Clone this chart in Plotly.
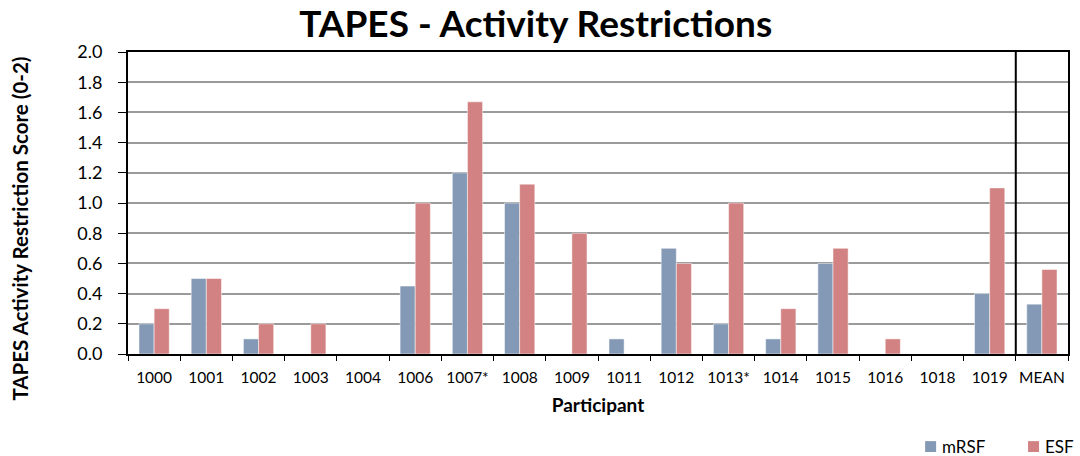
import plotly.graph_objects as go

participants = ["1000", "1001", "1002", "1003", "1004", "1006", "1007*", "1008", "1009",
                "1011", "1012", "1013*", "1014", "1015", "1016", "1018", "1019", "MEAN"]
mrsf = [0.2, 0.5, 0.1, 0.0, 0.0, 0.45, 1.2, 1.0, 0.0,
        0.1, 0.7, 0.2, 0.1, 0.6, 0.0, 0.0, 0.4, 0.33]
esf = [0.3, 0.5, 0.2, 0.2, 0.0, 1.0, 1.67, 1.125, 0.8,
       0.0, 0.6, 1.0, 0.3, 0.7, 0.1, 0.0, 1.1, 0.56]
y_ticks = [0.0, 0.2, 0.4, 0.6, 0.8, 1.0, 1.2, 1.4, 1.6, 1.8, 2.0]

FONT = "Lato"
BLUE = "#8499B5"
RED = "#D28282"

fig = go.Figure()
fig.add_trace(go.Bar(name="mRSF", x=participants, y=mrsf, marker_color=BLUE,
                     marker_line=dict(color="rgba(255,255,255,0.5)", width=1)))
fig.add_trace(go.Bar(name="ESF", x=participants, y=esf, marker_color=RED,
                     marker_line=dict(color="rgba(255,255,255,0.5)", width=1)))

fig.update_layout(
    width=1080, height=456,
    margin=dict(l=128, r=12, t=52, b=102, autoexpand=False),
    paper_bgcolor="white", plot_bgcolor="white",
    barmode="group", bargap=0.42, bargroupgap=0.0,
    font=dict(family=FONT, color="black"),
    title=dict(text="<b>TAPES - Activity Restrictions</b>", x=0.496, xanchor="center",
               y=0.947, yanchor="middle", font=dict(size=37, family=FONT)),
    showlegend=False,
)

fig.update_xaxes(
    type="category", showline=True, linecolor="black", linewidth=2, mirror=True,
    ticks="outside", tickson="boundaries", ticklen=5, tickcolor="black",
    tickangle=0, ticklabelstandoff=8, automargin=False,
    tickfont=dict(size=15.5, family=FONT),
    title=dict(text="<b>Participant</b>", font=dict(size=19, family=FONT), standoff=14),
    showgrid=False,
)
fig.update_yaxes(
    range=[0, 2.0], tickvals=y_ticks, ticktext=[f"{v:.1f}" for v in y_ticks],
    showline=True, linecolor="black", linewidth=2, mirror=True,
    ticks="outside", ticklen=8, tickcolor="black", automargin=False,
    ticklabelstandoff=12,
    tickfont=dict(size=18, family=FONT),
    showgrid=True, gridcolor="#9A9A9A", gridwidth=2,
    zeroline=False,
)

# vertical axis title, sitting slightly below the plot's mid-height
fig.add_annotation(text="<b>TAPES Activity Restriction Score (0-2)</b>",
                   xref="paper", yref="paper", x=-0.115, y=0.415,
                   xanchor="center", yanchor="middle", textangle=-90,
                   showarrow=False, font=dict(size=20.5, family=FONT))

# separator between participants and the mean
fig.add_shape(type="line", xref="x", yref="paper", x0=16.5, x1=16.5, y0=0, y1=1,
              line=dict(color="black", width=2))

# compact legend in the lower right: swatch + series name for each trace
legend_x = [0.848, 0.9575]
for trace, lx in zip(fig.data, legend_x):
    fig.add_shape(type="rect", xref="paper", yref="paper",
                  x0=lx, x1=lx + 0.0117, y0=-0.3245, y1=-0.2885,
                  fillcolor=trace.marker.color, line=dict(width=0))
    fig.add_annotation(text=trace.name, xref="paper", yref="paper",
                       x=lx + 0.0155, y=-0.305, xanchor="left", yanchor="middle",
                       showarrow=False, font=dict(size=17, family=FONT))

fig.write_html("out.html")
